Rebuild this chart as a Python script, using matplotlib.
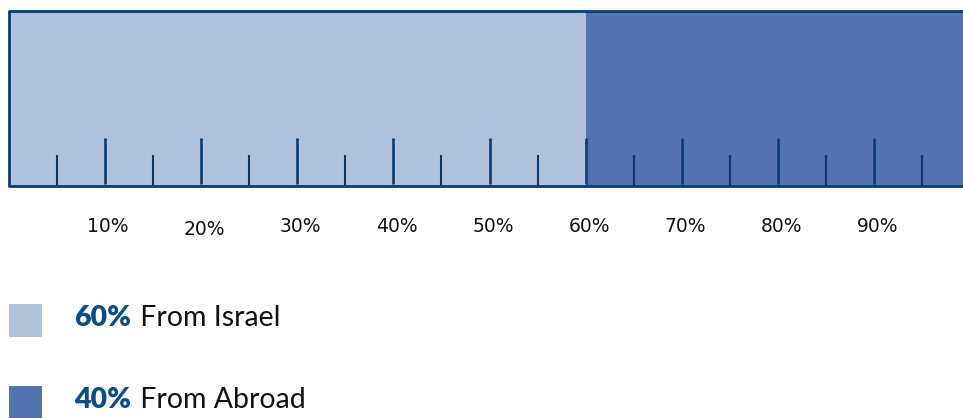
import matplotlib
matplotlib.use("Agg")
import matplotlib.pyplot as plt
from matplotlib.patches import Rectangle

# data
categories = ["From Israel", "From Abroad"]
shares = [60, 40]
major_ticks = [10, 20, 30, 40, 50, 60, 70, 80, 90]
minor_ticks = [5, 15, 25, 35, 45, 55, 65, 75, 85, 95]
tick_labels = ["10%", "20%", "30%", "40%", "50%", "60%", "70%", "80%", "90%"]

light = "#B0C1DC"
dark = "#5174AE"
navy = "#0A3A76"
bold_blue = "#0D4D86"
colors = [light, dark]

W, H = 963, 418
fig = plt.figure(figsize=(W / 100, H / 100), dpi=100)
ax = fig.add_axes([0, 0, 1, 1])
px_per_pct = 9.62
x0 = 8.5
ax.set_xlim(-x0 / px_per_pct, (W - x0) / px_per_pct)
ax.set_ylim(H, 0)
ax.axis("off")

# stacked bar
left = 0
for v, c in zip(shares, colors):
    ax.barh(98.5, v, left=left, height=175, color=c, edgecolor="none",
            linewidth=0, zorder=1)
    left += v

# border: top, left, bottom
ax.plot([0, 110], [11, 11], color=navy, lw=2.0, zorder=3, solid_capstyle="butt")
ax.plot([0, 110], [186, 186], color=navy, lw=2.0, zorder=3, solid_capstyle="butt")
ax.plot([0, 0], [10, 187], color=navy, lw=2.0, zorder=3, solid_capstyle="butt")

# ticks
ax.vlines(major_ticks, 138, 183.5, color=navy, lw=1.9, zorder=2)
ax.vlines(minor_ticks, 155, 186, color=navy, lw=1.5, zorder=2)

# tick labels
for p, lab in zip(major_ticks, tick_labels):
    yy = 229.5 if p == 20 else 226.5
    ax.text(p + 0.35, yy, lab, ha="center", va="center", fontsize=13.5,
            family="DejaVu Sans", color="#111111")

# legend
fig.canvas.draw()
renderer = fig.canvas.get_renderer()
leg_y = [318, 400]
for v, c, cat, yc in zip(shares, colors, categories, leg_y):
    fig.add_artist(Rectangle((9 / W, 1 - (yc + 2.5 + 16.5) / H), 33 / W, 33 / H,
                             transform=fig.transFigure, color=c, lw=0))
    t1 = fig.text(74 / W, 1 - yc / H, f"{v}%", ha="left", va="center",
                  fontsize=20.5, fontweight="heavy", color=bold_blue,
                  family="Lato")
    bb = t1.get_window_extent(renderer)
    fig.text(bb.x1 / W + 0.002, 1 - yc / H, " " + cat, ha="left", va="center",
             fontsize=20.5, color="#111111", family="Lato")

fig.savefig("out.png", dpi=100)
